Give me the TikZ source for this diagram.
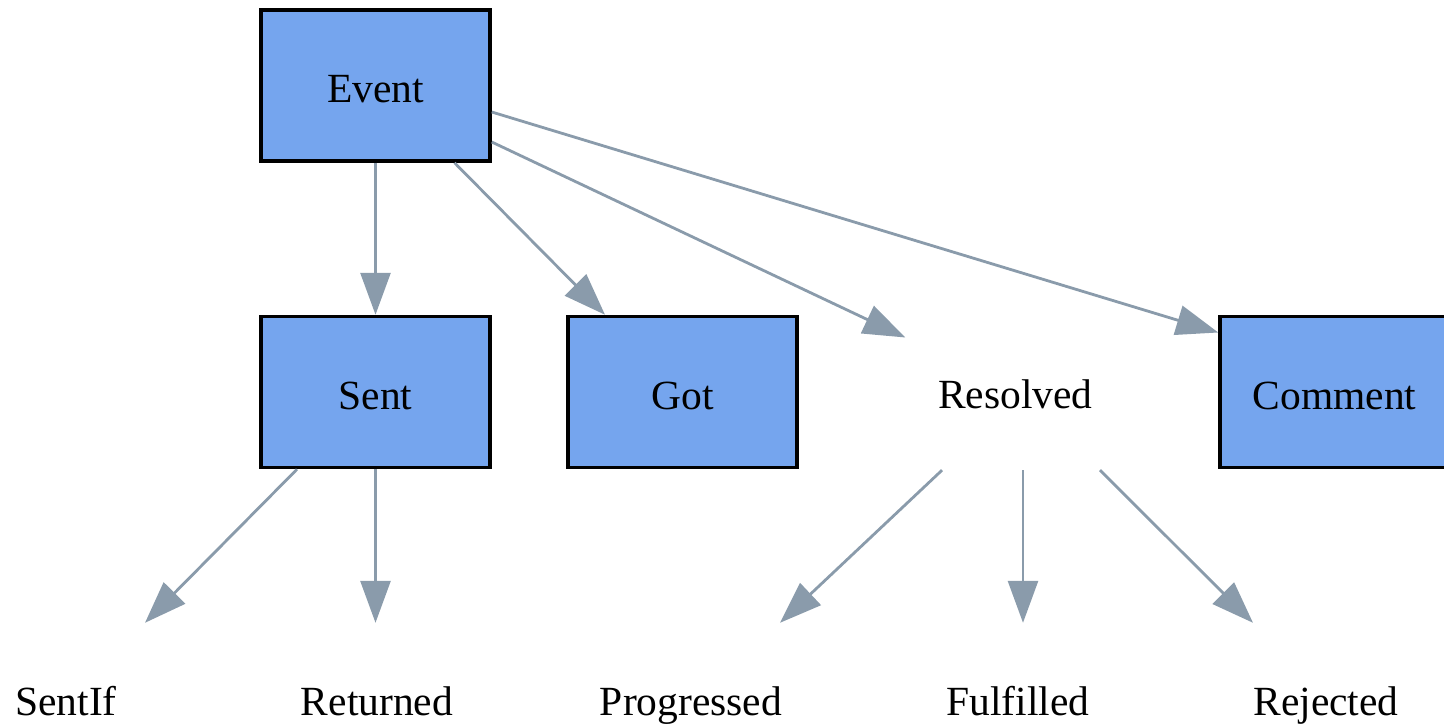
\documentclass[tikz,border=0pt]{standalone}
\usepackage{fontspec}
\setmainfont{Liberation Serif}
\usetikzlibrary{arrows.meta,calc}
\definecolor{boxfill}{RGB}{117,165,238}
\definecolor{edgecol}{RGB}{138,155,171}
\tikzset{
  lbl/.style={font=\fontsize{41.5}{50}\selectfont, text height=40pt, text depth=6pt, inner sep=0pt, align=center},
  box/.style={lbl, draw=black, line width=3.5pt, fill=boxfill, minimum width=229pt, minimum height=151pt},
  plainnode/.style={lbl, minimum width=220pt},
  edge/.style={draw=edgecol, line width=2.8pt, -{Triangle[length=42pt,width=30pt]}}
}
\begin{document}
\begin{tikzpicture}[x=1pt,y=-1pt]
\useasboundingbox (0,0) rectangle (1444,725);
\clip (0,0) rectangle (1444,725);
% boxes
\node[box] (event) at (375.5,85.5) {Event};
\node[box] (sent) at (375.5,392) {Sent};
\node[box] (got) at (682.5,392) {Got};
\node[box] (comment) at (1334.5,392) {Comment};
\node[plainnode, minimum height=158pt] (resolved) at (1015.5,391) {Resolved};
% bottom labels
\node[plainnode, minimum height=150pt] (sentif) at (66,698) {SentIf};
\node[plainnode, minimum height=150pt] (returned) at (377,698) {Returned};
\node[plainnode, minimum height=150pt] (progressed) at (691,698) {Progressed};
\node[plainnode, minimum height=150pt] (fulfilled) at (1018,698) {Fulfilled};
\node[plainnode, minimum height=150pt] (rejected) at (1326,698) {Rejected};
% edges
\draw[edge] (event.south) -- (sent.north);
\draw[edge] ($(event.south)+(79,0)$) -- ($(got.north)+(-77.5,0)$);
\draw[edge] ($(event.east)+(0,56.5)$) -- ($(resolved.west)+(0,-53.5)$);
\draw[edge] ($(event.east)+(0,26.5)$) -- ($(comment.west)+(0,-59.5)$);
\draw[edge] ($(sent.south)+(-78.5,0)$) -- ($(sentif.north)+(79,0)$);
\draw[edge] ($(sent.south)+(0,0)$) -- ($(returned.north)+(-1.5,0)$);
\draw[edge] ($(resolved.south)+(-73.5,0)$) -- ($(progressed.north)+(89,0)$);
\draw[edge] ($(resolved.south)+(7.5,0)$) -- ($(fulfilled.north)+(5,0)$);
\draw[edge] ($(resolved.south)+(84.5,0)$) -- ($(rejected.north)+(-73,0)$);
\end{tikzpicture}
\end{document}
